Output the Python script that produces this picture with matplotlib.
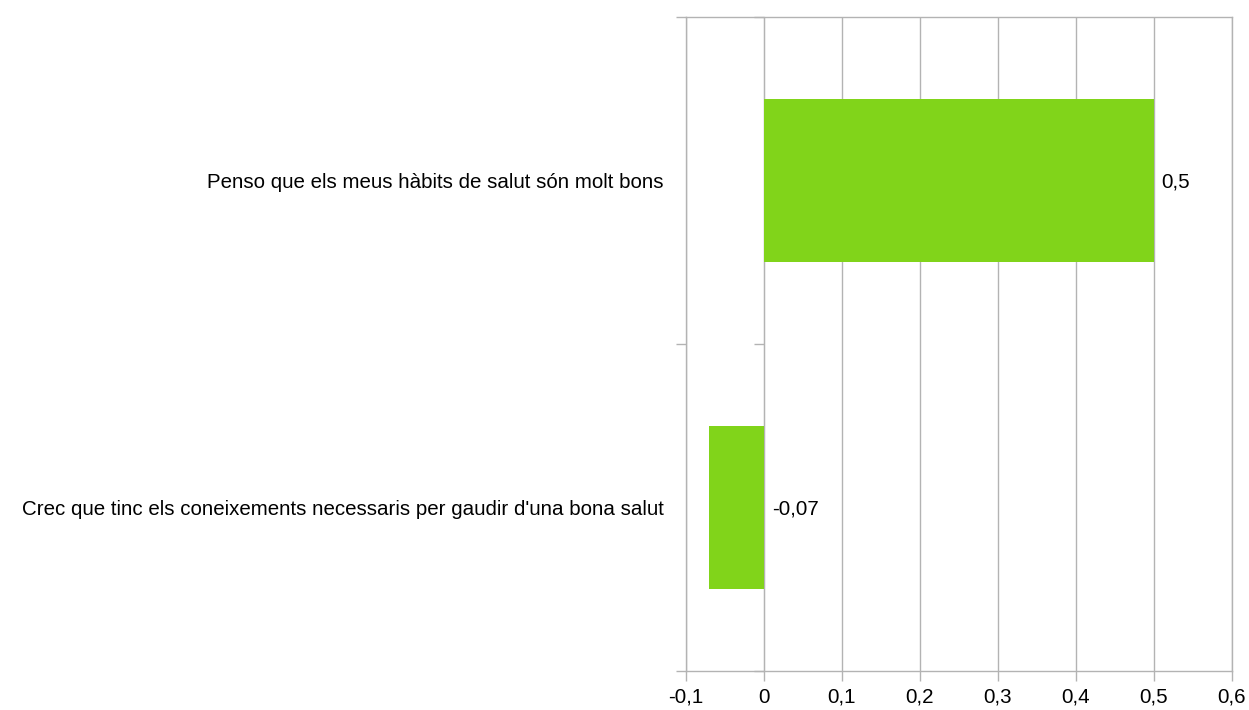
import matplotlib
matplotlib.use("Agg")
import matplotlib.pyplot as plt
from matplotlib.ticker import FixedLocator, FuncFormatter

plt.rcParams['font.family'] = ['Liberation Sans', 'DejaVu Sans']

# Statements, listed from bottom to top
categories = [
    "Crec que tinc els coneixements necessaris per gaudir d'una bona salut",
    "Penso que els meus hàbits de salut són molt bons",
]
values = [-0.07, 0.5]
value_labels = ["-0,07", "0,5"]
x_ticks = [-0.1, 0, 0.1, 0.2, 0.3, 0.4, 0.5, 0.6]

bar_color = "#81d41a"
grid_color = "#b3b3b3"
fs = 14.8

fig = plt.figure(figsize=(12.49, 7.10), dpi=100)
ax = fig.add_axes([686 / 1249, 1 - 671 / 710, (1232 - 686) / 1249, (671 - 17) / 710])

ypos = list(range(len(categories)))
ax.barh(ypos, values, height=0.5, color=bar_color, zorder=3)

ax.set_xlim(x_ticks[0], x_ticks[-1])
ax.set_ylim(-0.5, len(categories) - 0.5)

# x axis: vertical grid lines at each tick
ax.set_xticks(x_ticks)
ax.xaxis.set_major_formatter(FuncFormatter(lambda v, p: f"{v:g}".replace(".", ",")))
ax.grid(axis="x", color=grid_color, linewidth=1, zorder=0)
ax.tick_params(axis="x", direction="out", length=7.2, width=1, color=grid_color,
               labelsize=fs, pad=5, labelcolor="black")

# y axis: ticks at category boundaries, labels at category centres
bounds = [i - 0.5 for i in range(len(categories) + 1)]
ax.yaxis.set_major_locator(FixedLocator(bounds))
ax.yaxis.set_major_formatter(FuncFormatter(lambda v, p: ""))
ax.yaxis.set_minor_locator(FixedLocator(ypos))
ax.set_yticklabels(categories, minor=True)
ax.tick_params(axis="y", which="major", direction="out", length=7.2, width=1, color=grid_color)
ax.tick_params(axis="y", which="minor", length=0, labelsize=fs, pad=16)

for s in ["top", "bottom", "left", "right"]:
    ax.spines[s].set_color(grid_color)
    ax.spines[s].set_linewidth(1)

# tick marks on the zero line
zero_loc = (0 - x_ticks[0]) / (x_ticks[-1] - x_ticks[0])
sec = ax.secondary_yaxis(zero_loc)
sec.yaxis.set_major_locator(FixedLocator(bounds))
sec.yaxis.set_major_formatter(FuncFormatter(lambda v, p: ""))
sec.tick_params(direction="out", length=7.2, width=1, color=grid_color)
sec.spines["left"].set_color(grid_color)

# value labels
for y, v, lab in zip(ypos, values, value_labels):
    ax.annotate(lab, xy=(max(v, 0), y), xytext=(5.5, -1), textcoords="offset points",
                ha="left", va="center", fontsize=fs, color="black")

fig.savefig("out.png", dpi=100, facecolor="white")
